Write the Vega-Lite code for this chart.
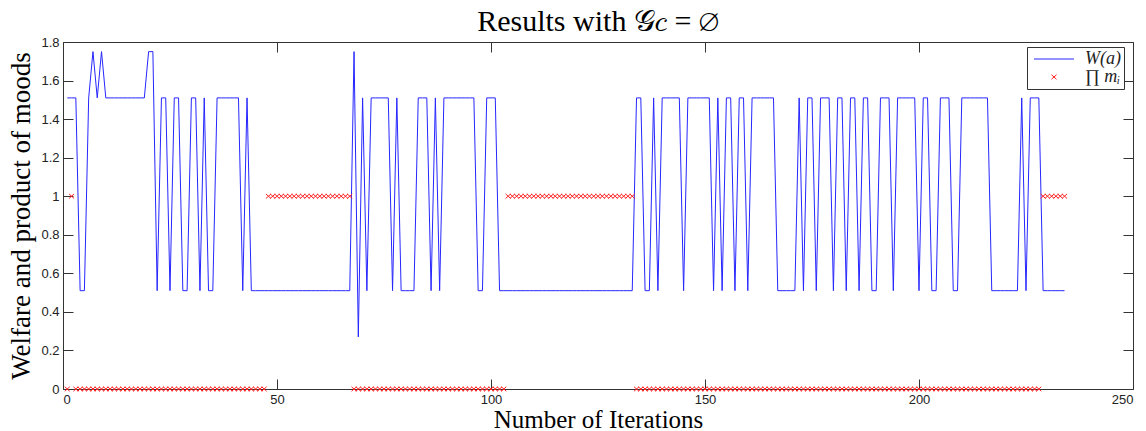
{
  "$schema": "https://vega.github.io/schema/vega-lite/v6.json",
  "width": 1070,
  "height": 347,
  "autosize": {"type": "none"},
  "padding": {"left": 63, "top": 42, "right": 13, "bottom": 42},
  "background": "white",
  "title": {
    "text": "Results with 𝒢𝑐 = ∅",
    "font": "Liberation Serif",
    "fontSize": 30,
    "fontWeight": "normal",
    "color": "black",
    "anchor": "middle",
    "offset": -1
  },
  "config": {
    "view": {"stroke": null},
    "axis": {
      "grid": false,
      "domainColor": "#333333",
      "tickColor": "#333333",
      "tickSize": -10,
      "labelColor": "#222222",
      "labelFont": "Liberation Sans",
      "labelFontSize": 13,
      "titleFont": "Liberation Serif",
      "titleFontSize": 25,
      "titleFontWeight": "normal",
      "titleColor": "black"
    },
    "legend": {
      "title": null,
      "orient": "none",
      "legendX": 964,
      "legendY": 5,
      "strokeColor": "#333333",
      "fillColor": "white",
      "padding": 3,
      "rowPadding": -3,
      "symbolSize": 100,
      "symbolOffset": 15,
      "labelOffset": 22,
      "symbolStrokeWidth": 1,
      "labelFont": "Liberation Serif",
      "labelFontStyle": "italic",
      "labelFontSize": 18,
      "labelColor": "#222222"
    }
  },
  "data": {
    "values": [
      {"i":1,"w":1.51,"m":0},{"i":2,"w":1.51,"m":1},{"i":3,"w":1.51,"m":0},{"i":4,"w":0.51,"m":0},{"i":5,"w":0.51,"m":0},
      {"i":6,"w":1.51,"m":0},{"i":7,"w":1.75,"m":0},{"i":8,"w":1.51,"m":0},{"i":9,"w":1.75,"m":0},{"i":10,"w":1.51,"m":0},
      {"i":11,"w":1.51,"m":0},{"i":12,"w":1.51,"m":0},{"i":13,"w":1.51,"m":0},{"i":14,"w":1.51,"m":0},{"i":15,"w":1.51,"m":0},
      {"i":16,"w":1.51,"m":0},{"i":17,"w":1.51,"m":0},{"i":18,"w":1.51,"m":0},{"i":19,"w":1.51,"m":0},{"i":20,"w":1.75,"m":0},
      {"i":21,"w":1.75,"m":0},{"i":22,"w":0.51,"m":0},{"i":23,"w":1.51,"m":0},{"i":24,"w":1.51,"m":0},{"i":25,"w":0.51,"m":0},
      {"i":26,"w":1.51,"m":0},{"i":27,"w":1.51,"m":0},{"i":28,"w":0.51,"m":0},{"i":29,"w":0.51,"m":0},{"i":30,"w":1.51,"m":0},
      {"i":31,"w":1.51,"m":0},{"i":32,"w":0.51,"m":0},{"i":33,"w":1.51,"m":0},{"i":34,"w":0.51,"m":0},{"i":35,"w":0.51,"m":0},
      {"i":36,"w":1.51,"m":0},{"i":37,"w":1.51,"m":0},{"i":38,"w":1.51,"m":0},{"i":39,"w":1.51,"m":0},{"i":40,"w":1.51,"m":0},
      {"i":41,"w":1.51,"m":0},{"i":42,"w":0.51,"m":0},{"i":43,"w":1.51,"m":0},{"i":44,"w":0.51,"m":0},{"i":45,"w":0.51,"m":0},
      {"i":46,"w":0.51,"m":0},{"i":47,"w":0.51,"m":0},{"i":48,"w":0.51,"m":1},{"i":49,"w":0.51,"m":1},{"i":50,"w":0.51,"m":1},
      {"i":51,"w":0.51,"m":1},{"i":52,"w":0.51,"m":1},{"i":53,"w":0.51,"m":1},{"i":54,"w":0.51,"m":1},{"i":55,"w":0.51,"m":1},
      {"i":56,"w":0.51,"m":1},{"i":57,"w":0.51,"m":1},{"i":58,"w":0.51,"m":1},{"i":59,"w":0.51,"m":1},{"i":60,"w":0.51,"m":1},
      {"i":61,"w":0.51,"m":1},{"i":62,"w":0.51,"m":1},{"i":63,"w":0.51,"m":1},{"i":64,"w":0.51,"m":1},{"i":65,"w":0.51,"m":1},
      {"i":66,"w":0.51,"m":1},{"i":67,"w":0.51,"m":1},{"i":68,"w":1.75,"m":0},{"i":69,"w":0.27,"m":0},{"i":70,"w":1.51,"m":0},
      {"i":71,"w":0.51,"m":0},{"i":72,"w":1.51,"m":0},{"i":73,"w":1.51,"m":0},{"i":74,"w":1.51,"m":0},{"i":75,"w":1.51,"m":0},
      {"i":76,"w":1.51,"m":0},{"i":77,"w":0.51,"m":0},{"i":78,"w":1.51,"m":0},{"i":79,"w":0.51,"m":0},{"i":80,"w":0.51,"m":0},
      {"i":81,"w":0.51,"m":0},{"i":82,"w":0.51,"m":0},{"i":83,"w":1.51,"m":0},{"i":84,"w":1.51,"m":0},{"i":85,"w":1.51,"m":0},
      {"i":86,"w":0.51,"m":0},{"i":87,"w":1.51,"m":0},{"i":88,"w":0.51,"m":0},{"i":89,"w":1.51,"m":0},{"i":90,"w":1.51,"m":0},
      {"i":91,"w":1.51,"m":0},{"i":92,"w":1.51,"m":0},{"i":93,"w":1.51,"m":0},{"i":94,"w":1.51,"m":0},{"i":95,"w":1.51,"m":0},
      {"i":96,"w":1.51,"m":0},{"i":97,"w":0.51,"m":0},{"i":98,"w":0.51,"m":0},{"i":99,"w":1.51,"m":0},{"i":100,"w":1.51,"m":0},
      {"i":101,"w":1.51,"m":0},{"i":102,"w":0.51,"m":0},{"i":103,"w":0.51,"m":0},{"i":104,"w":0.51,"m":1},{"i":105,"w":0.51,"m":1},
      {"i":106,"w":0.51,"m":1},{"i":107,"w":0.51,"m":1},{"i":108,"w":0.51,"m":1},{"i":109,"w":0.51,"m":1},{"i":110,"w":0.51,"m":1},
      {"i":111,"w":0.51,"m":1},{"i":112,"w":0.51,"m":1},{"i":113,"w":0.51,"m":1},{"i":114,"w":0.51,"m":1},{"i":115,"w":0.51,"m":1},
      {"i":116,"w":0.51,"m":1},{"i":117,"w":0.51,"m":1},{"i":118,"w":0.51,"m":1},{"i":119,"w":0.51,"m":1},{"i":120,"w":0.51,"m":1},
      {"i":121,"w":0.51,"m":1},{"i":122,"w":0.51,"m":1},{"i":123,"w":0.51,"m":1},{"i":124,"w":0.51,"m":1},{"i":125,"w":0.51,"m":1},
      {"i":126,"w":0.51,"m":1},{"i":127,"w":0.51,"m":1},{"i":128,"w":0.51,"m":1},{"i":129,"w":0.51,"m":1},{"i":130,"w":0.51,"m":1},
      {"i":131,"w":0.51,"m":1},{"i":132,"w":0.51,"m":1},{"i":133,"w":0.51,"m":1},{"i":134,"w":1.51,"m":0},{"i":135,"w":1.51,"m":0},
      {"i":136,"w":0.51,"m":0},{"i":137,"w":0.51,"m":0},{"i":138,"w":1.51,"m":0},{"i":139,"w":0.51,"m":0},{"i":140,"w":1.51,"m":0},
      {"i":141,"w":1.51,"m":0},{"i":142,"w":1.51,"m":0},{"i":143,"w":1.51,"m":0},{"i":144,"w":1.51,"m":0},{"i":145,"w":0.51,"m":0},
      {"i":146,"w":1.51,"m":0},{"i":147,"w":1.51,"m":0},{"i":148,"w":1.51,"m":0},{"i":149,"w":1.51,"m":0},{"i":150,"w":1.51,"m":0},
      {"i":151,"w":1.51,"m":0},{"i":152,"w":0.51,"m":0},{"i":153,"w":1.51,"m":0},{"i":154,"w":0.51,"m":0},{"i":155,"w":1.51,"m":0},
      {"i":156,"w":1.51,"m":0},{"i":157,"w":0.51,"m":0},{"i":158,"w":1.51,"m":0},{"i":159,"w":1.51,"m":0},{"i":160,"w":0.51,"m":0},
      {"i":161,"w":1.51,"m":0},{"i":162,"w":1.51,"m":0},{"i":163,"w":1.51,"m":0},{"i":164,"w":1.51,"m":0},{"i":165,"w":1.51,"m":0},
      {"i":166,"w":1.51,"m":0},{"i":167,"w":0.51,"m":0},{"i":168,"w":0.51,"m":0},{"i":169,"w":0.51,"m":0},{"i":170,"w":0.51,"m":0},
      {"i":171,"w":0.51,"m":0},{"i":172,"w":1.51,"m":0},{"i":173,"w":0.51,"m":0},{"i":174,"w":1.51,"m":0},{"i":175,"w":1.51,"m":0},
      {"i":176,"w":0.51,"m":0},{"i":177,"w":1.51,"m":0},{"i":178,"w":1.51,"m":0},{"i":179,"w":1.51,"m":0},{"i":180,"w":0.51,"m":0},
      {"i":181,"w":1.51,"m":0},{"i":182,"w":1.51,"m":0},{"i":183,"w":0.51,"m":0},{"i":184,"w":1.51,"m":0},{"i":185,"w":1.51,"m":0},
      {"i":186,"w":0.51,"m":0},{"i":187,"w":1.51,"m":0},{"i":188,"w":1.51,"m":0},{"i":189,"w":0.51,"m":0},{"i":190,"w":0.51,"m":0},
      {"i":191,"w":1.51,"m":0},{"i":192,"w":1.51,"m":0},{"i":193,"w":1.51,"m":0},{"i":194,"w":0.51,"m":0},{"i":195,"w":1.51,"m":0},
      {"i":196,"w":1.51,"m":0},{"i":197,"w":1.51,"m":0},{"i":198,"w":1.51,"m":0},{"i":199,"w":1.51,"m":0},{"i":200,"w":0.51,"m":0},
      {"i":201,"w":1.51,"m":0},{"i":202,"w":1.51,"m":0},{"i":203,"w":0.51,"m":0},{"i":204,"w":0.51,"m":0},{"i":205,"w":1.51,"m":0},
      {"i":206,"w":1.51,"m":0},{"i":207,"w":1.51,"m":0},{"i":208,"w":0.51,"m":0},{"i":209,"w":0.51,"m":0},{"i":210,"w":1.51,"m":0},
      {"i":211,"w":1.51,"m":0},{"i":212,"w":1.51,"m":0},{"i":213,"w":1.51,"m":0},{"i":214,"w":1.51,"m":0},{"i":215,"w":1.51,"m":0},
      {"i":216,"w":1.51,"m":0},{"i":217,"w":0.51,"m":0},{"i":218,"w":0.51,"m":0},{"i":219,"w":0.51,"m":0},{"i":220,"w":0.51,"m":0},
      {"i":221,"w":0.51,"m":0},{"i":222,"w":0.51,"m":0},{"i":223,"w":0.51,"m":0},{"i":224,"w":1.51,"m":0},{"i":225,"w":0.51,"m":0},
      {"i":226,"w":1.51,"m":0},{"i":227,"w":1.51,"m":0},{"i":228,"w":1.51,"m":0},{"i":229,"w":0.51,"m":1},{"i":230,"w":0.51,"m":1},
      {"i":231,"w":0.51,"m":1},{"i":232,"w":0.51,"m":1},{"i":233,"w":0.51,"m":1},{"i":234,"w":0.51,"m":1}
    ]
  },
  "transform": [{"fold": ["w", "m"], "as": ["s", "v"]}],
  "layer": [
    {
      "transform": [{"filter": "datum.s == 'w'"}],
      "mark": {"type": "line", "strokeWidth": 1, "interpolate": "linear"},
      "encoding": {
        "x": {
          "field": "i", "type": "quantitative",
          "scale": {"domain": [0, 250], "nice": false, "zero": false},
          "axis": {"orient": "bottom", "values": [0, 50, 100, 150, 200, 250], "format": "d", "title": "Number of Iterations", "labelPadding": 14, "titlePadding": 1}
        },
        "y": {
          "field": "v", "type": "quantitative",
          "scale": {"domain": [0, 1.8], "nice": false},
          "axis": {"orient": "left", "values": [0, 0.2, 0.4, 0.6, 0.8, 1, 1.2, 1.4, 1.6, 1.8], "format": "~g", "title": "Welfare and product of moods", "labelPadding": 14, "titlePadding": 5, "titleFontSize": 27}
        },
        "color": {
          "field": "s", "type": "nominal",
          "scale": {"domain": ["w", "m"], "range": ["#2626ff", "#ff2020"]},
          "legend": {"labelExpr": "datum.value == 'w' ? 'W(a)\u2007\u2007' : '∏ mᵢ'"}
        }
      }
    },
    {
      "transform": [{"filter": "datum.s == 'm'"}],
      "mark": {"type": "point", "filled": false, "strokeWidth": 1, "opacity": 1, "size": 100},
      "encoding": {
        "x": {
          "field": "i", "type": "quantitative",
          "axis": {"orient": "top", "values": [0, 50, 100, 150, 200, 250], "labels": false, "title": null}
        },
        "y": {
          "field": "v", "type": "quantitative",
          "axis": {"orient": "right", "values": [0, 0.2, 0.4, 0.6, 0.8, 1, 1.2, 1.4, 1.6, 1.8], "labels": false, "title": null}
        },
        "color": {
          "field": "s", "type": "nominal",
          "scale": {"domain": ["w", "m"], "range": ["#2626ff", "#ff2020"]},
          "legend": {"labelExpr": "datum.value == 'w' ? 'W(a)\u2007\u2007' : '∏ mᵢ'"}
        },
        "shape": {
          "field": "s", "type": "nominal",
          "scale": {"domain": ["w", "m"], "range": ["M-4,0L4,0", "M-0.5,-0.45L0.5,0.45M-0.5,0.45L0.5,-0.45"]},
          "legend": {"labelExpr": "datum.value == 'w' ? 'W(a)\u2007\u2007' : '∏ mᵢ'"}
        }
      }
    }
  ],
  "resolve": {"axis": {"x": "independent", "y": "independent"}}
}
